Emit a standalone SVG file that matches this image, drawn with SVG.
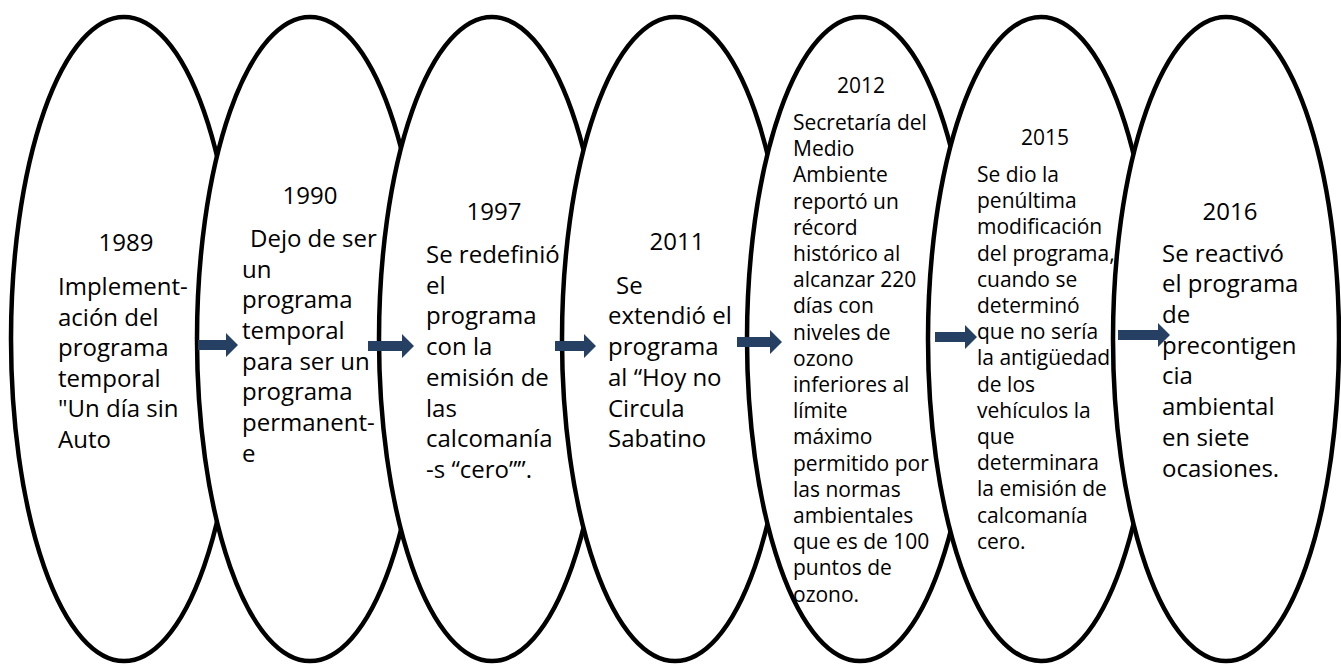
<svg xmlns="http://www.w3.org/2000/svg" width="1341" height="664" viewBox="0 0 1341 664">
<style>
.node ellipse{fill:#fff;stroke:#000;stroke-width:4.5}
.t{font-family:"Open Sans","Noto Sans","Liberation Sans",sans-serif;font-size:24px;fill:#000}
.s{font-size:21px}
.y{text-anchor:middle}
.arrow{fill:#264064}
</style>
<rect width="1341" height="664" fill="#fff"/>
<g id="node-1989" class="node">
<ellipse cx="124" cy="339" rx="113" ry="322"/>
<text class="t y" x="126" y="251">1989</text>
<text class="t" x="58"><tspan x="58" y="295">Implement-</tspan><tspan x="58" y="326">ación del</tspan><tspan x="58" y="356">programa</tspan><tspan x="58" y="387">temporal</tspan><tspan x="58" y="417">"Un día sin</tspan><tspan x="58" y="448">Auto</tspan></text>
</g>
<g id="node-1990" class="node">
<ellipse cx="310" cy="339" rx="113" ry="322"/>
<text class="t y" x="310" y="204">1990</text>
<text class="t" x="242"><tspan x="250" y="247">Dejo de ser</tspan><tspan x="242" y="278">un</tspan><tspan x="242" y="308">programa</tspan><tspan x="242" y="339">temporal</tspan><tspan x="242" y="370">para ser un</tspan><tspan x="242" y="400">programa</tspan><tspan x="242" y="431">permanent-</tspan><tspan x="242" y="462">e</tspan></text>
</g>
<g id="node-1997" class="node">
<ellipse cx="492" cy="339" rx="113" ry="322"/>
<text class="t y" x="494" y="220">1997</text>
<text class="t" x="426"><tspan x="426" y="263">Se redefinió</tspan><tspan x="426" y="294">el</tspan><tspan x="426" y="324">programa</tspan><tspan x="426" y="355">con la</tspan><tspan x="426" y="386">emisión de</tspan><tspan x="426" y="417">las</tspan><tspan x="426" y="447">calcomanía</tspan><tspan x="426" y="478">-s “cero””.</tspan></text>
</g>
<g id="node-2011" class="node">
<ellipse cx="675" cy="339" rx="113" ry="322"/>
<text class="t y" x="677" y="250">2011</text>
<text class="t" x="608"><tspan x="616" y="294">Se</tspan><tspan x="608" y="324">extendió el</tspan><tspan x="608" y="355">programa</tspan><tspan x="608" y="386">al “Hoy no</tspan><tspan x="608" y="417">Circula</tspan><tspan x="608" y="447">Sabatino</tspan></text>
</g>
<g id="node-2012" class="node">
<ellipse cx="860" cy="339" rx="113" ry="322"/>
<text class="t s y" x="861" y="93">2012</text>
<text class="t s" x="793"><tspan x="793" y="130">Secretaría del</tspan><tspan x="793" y="156">Medio</tspan><tspan x="793" y="182">Ambiente</tspan><tspan x="793" y="209">reportó un</tspan><tspan x="793" y="235">récord</tspan><tspan x="793" y="261">histórico al</tspan><tspan x="793" y="287">alcanzar 220</tspan><tspan x="793" y="313">días con</tspan><tspan x="793" y="340">niveles de</tspan><tspan x="793" y="366">ozono</tspan><tspan x="793" y="392">inferiores al</tspan><tspan x="793" y="418">límite</tspan><tspan x="793" y="444">máximo</tspan><tspan x="793" y="471">permitido por</tspan><tspan x="793" y="497">las normas</tspan><tspan x="793" y="523">ambientales</tspan><tspan x="793" y="549">que es de 100</tspan><tspan x="793" y="575">puntos de</tspan><tspan x="793" y="602">ozono.</tspan></text>
</g>
<g id="node-2015" class="node">
<ellipse cx="1041" cy="339" rx="113" ry="322"/>
<text class="t s y" x="1045" y="145">2015</text>
<text class="t s" x="977"><tspan x="977" y="182">Se dio la</tspan><tspan x="977" y="208">penúltima</tspan><tspan x="977" y="234">modificación</tspan><tspan x="977" y="261">del programa,</tspan><tspan x="977" y="287">cuando se</tspan><tspan x="977" y="313">determinó</tspan><tspan x="977" y="339">que no sería</tspan><tspan x="977" y="365">la antigüedad</tspan><tspan x="977" y="392">de los</tspan><tspan x="977" y="418">vehículos la</tspan><tspan x="977" y="444">que</tspan><tspan x="977" y="470">determinara</tspan><tspan x="977" y="496">la emisión de</tspan><tspan x="977" y="523">calcomanía</tspan><tspan x="977" y="549">cero.</tspan></text>
</g>
<g id="node-2016" class="node">
<ellipse cx="1226" cy="339" rx="113" ry="322"/>
<text class="t y" x="1230" y="220">2016</text>
<text class="t" x="1162"><tspan x="1162" y="262">Se reactivó</tspan><tspan x="1162" y="292">el programa</tspan><tspan x="1162" y="323">de</tspan><tspan x="1162" y="354">precontigen</tspan><tspan x="1162" y="384">cia</tspan><tspan x="1162" y="415">ambiental</tspan><tspan x="1162" y="446">en siete</tspan><tspan x="1162" y="477">ocasiones.</tspan></text>
</g>
<g id="connectors">
<polygon class="arrow" points="198,340 226,340 226,333 238,345 226,357 226,350 198,350"/>
<polygon class="arrow" points="368,341 402,341 402,334 414,346 402,358 402,351 368,351"/>
<polygon class="arrow" points="555,341 584,341 584,334 596,346 584,358 584,351 555,351"/>
<polygon class="arrow" points="737,337 770,337 770,330 782,342 770,354 770,347 737,347"/>
<polygon class="arrow" points="935,332 965,332 965,325 977,337 965,349 965,342 935,342"/>
<polygon class="arrow" points="1118,330 1158,330 1158,323 1170,335 1158,347 1158,340 1118,340"/>
</g>
</svg>
